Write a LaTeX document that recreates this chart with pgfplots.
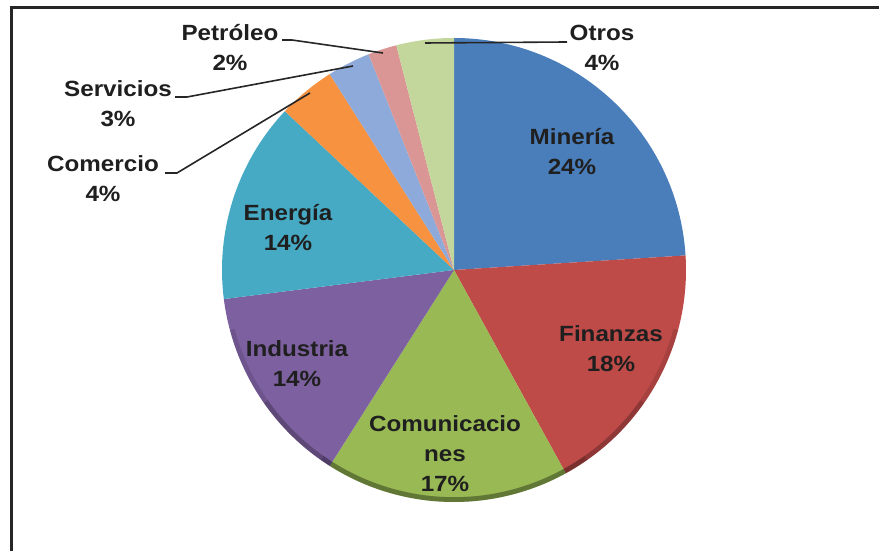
\documentclass[border=0pt]{standalone}
\usepackage{fontspec}
\setmainfont[FakeStretch=1.1]{Liberation Sans}
\usepackage{pgfplots}
\pgfplotsset{compat=1.18}
\definecolor{cMin}{HTML}{4A7EBB}
\definecolor{cFin}{HTML}{BE4B48}
\definecolor{cCom}{HTML}{98B954}
\definecolor{cInd}{HTML}{7D60A0}
\definecolor{cEne}{HTML}{46AAC5}
\definecolor{cCmr}{HTML}{F69240}
\definecolor{cSer}{HTML}{8EAADB}
\definecolor{cPet}{HTML}{D99694}
\definecolor{cOtr}{HTML}{C3D69B}
\begin{document}
\begin{tikzpicture}
\begin{axis}[width=439.5pt,height=275.5pt,scale only axis,hide axis,
  xmin=0,xmax=879,ymin=0,ymax=551,clip=false]
\coordinate (SW) at (axis cs:0,0);
\coordinate (NE) at (axis cs:879,551);
\gdef\acc{90}
\foreach \v/\c in {24/cMin,18/cFin,17/cCom,14/cInd,14/cEne,4/cCmr,3/cSer,2/cPet,4/cOtr}{
  \pgfmathsetmacro\a{\acc}
  \pgfmathsetmacro\b{\acc-3.6*\v}
  \edef\tmp{\noexpand\fill[\c] (axis cs:454,281) -- ++(\a:116pt) arc[start angle=\a,end angle=\b,radius=116pt] -- cycle;}
  \tmp
  \xdef\acc{\b}
}
% rim shading (3D look)
\draw[black,opacity=0.12,line width=2.4pt] (axis cs:454,281) ++(195:114.8pt) arc[start angle=195,end angle=345,radius=114.8pt];
\draw[black,opacity=0.14,line width=2.4pt] (axis cs:454,281) ++(215:114.8pt) arc[start angle=215,end angle=325,radius=114.8pt];
\draw[black,opacity=0.14,line width=2.4pt] (axis cs:454,281) ++(235:114.8pt) arc[start angle=235,end angle=305,radius=114.8pt];
% frame
\draw[line width=1.5pt,black!85] (axis cs:11,0) -- (axis cs:11,543) -- (axis cs:879,543);
% leader lines
\draw[line width=0.8pt,black!85] (axis cs:165,378) -- (axis cs:177,378) -- (axis cs:310,458);
\draw[line width=0.8pt,black!85] (axis cs:175,454) -- (axis cs:187,454) -- (axis cs:353,485);
\draw[line width=0.8pt,black!85] (axis cs:282,511) -- (axis cs:292,511) -- (axis cs:383,498);
\draw[line width=0.8pt,black!85] (axis cs:425,508) -- (axis cs:567,509);
% labels
\tikzset{lab/.style={align=center,text=black!88,font=\fontsize{11}{15}\selectfont\bfseries,inner sep=0pt}}
\node[lab] at (axis cs:572,399) {Minería\\24\%};
\node[lab] at (axis cs:611,202) {Finanzas\\18\%};
\node[lab] at (axis cs:445,97) {Comunicacio\\nes\\17\%};
\node[lab] at (axis cs:297,187) {Industria\\14\%};
\node[lab] at (axis cs:288,323) {Energía\\14\%};
\node[lab] at (axis cs:103,372) {Comercio\\4\%};
\node[lab] at (axis cs:118,447) {Servicios\\3\%};
\node[lab] at (axis cs:230,503) {Petróleo\\2\%};
\node[lab] at (axis cs:602,503) {Otros\\4\%};
\end{axis}
\pgfresetboundingbox
\useasboundingbox (SW) rectangle (NE);
\end{tikzpicture}
\end{document}
